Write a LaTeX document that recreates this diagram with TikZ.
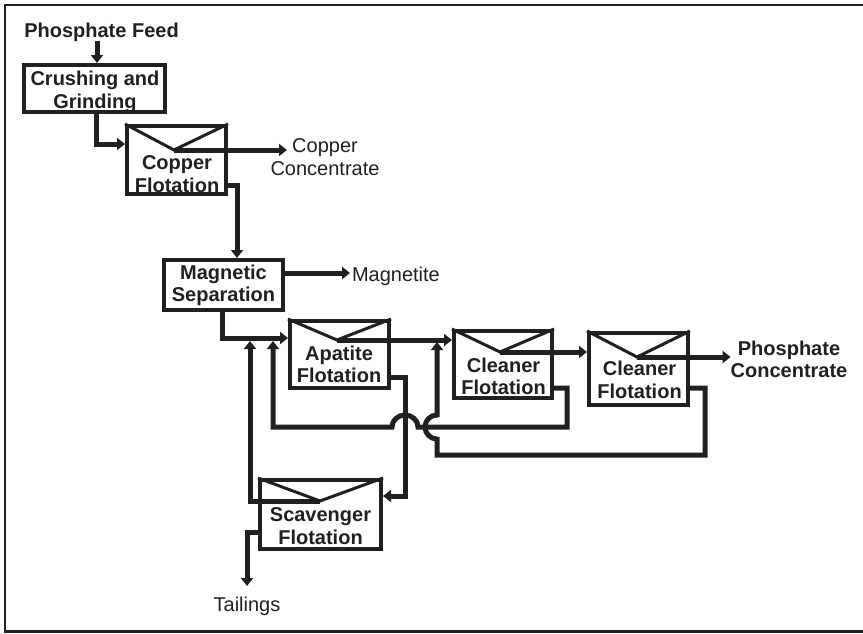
\documentclass[tikz,border=0pt]{standalone}
\usepackage{fontspec}
\setmainfont{Liberation Sans}
\usetikzlibrary{arrows.meta,calc}
\definecolor{ink}{RGB}{35,31,32}
\begin{document}
\begin{tikzpicture}[x=1pt,y=-1pt,
  every node/.style={inner sep=0pt,outer sep=0pt,text=ink},
  txt/.style={font=\fontsize{20}{22.5}\selectfont},
  btxt/.style={font=\fontsize{20}{22.5}\selectfont\bfseries},
  unit/.style 2 args={draw=ink,line width=4pt,outer sep=2pt,
    minimum width=#1pt,minimum height=#2pt},
  flow/.style={draw=ink,line width=5pt,-{Triangle[length=8pt,width=12pt]}},
  froth/.style={draw=ink,line width=3pt},
  frame/.style={draw=ink,line width=2.5pt}]
\useasboundingbox (0,0) rectangle (863,633);
\draw[frame] (863,5) -- (5,5) -- (5,631.5) -- (863,631.5);

% process units
\node[unit={141}{47}] (crush) at (94.5,88.5) {};
\node[unit={99}{68}]  (cu)    at (176.5,160) {};
\node[unit={119}{50}] (mag)   at (223.5,285) {};
\node[unit={99}{67}]  (ap)    at (339.5,354.5) {};
\node[unit={98}{67}]  (c1)    at (503,364.5) {};
\node[unit={99}{72}]  (c2)    at (638.5,369) {};
\node[unit={121}{69}] (sc)    at (320.5,514.5) {};

% froth launders (apex of each cell)
\coordinate (cu-v) at (174,150);
\coordinate (ap-v) at (337,340);
\coordinate (c1-v) at (500,352);
\coordinate (c2-v) at (637,357);
\coordinate (sc-v) at (320,501);
\foreach \u in {cu,ap,c1,c2,sc}
  \draw[froth,line join=miter] (\u.north west) -- (\u-v) -- (\u.north east);

% unit labels
\node[btxt,align=center] (crush-t) at (95,92)    {Crushing and\\Grinding};
\node[btxt,align=center] (cu-t)    at (177,174)  {Copper\\Flotation};
\node[btxt,align=center] (mag-t)   at (223.5,285.5) {Magnetic\\Separation};
\node[btxt,align=center] (ap-t)    at (339,364.5) {Apatite\\Flotation};
\node[btxt,align=center] (c1-t)    at (503.5,376.5) {Cleaner\\Flotation};
\node[btxt,align=center] (c2-t)    at (639.5,380) {Cleaner\\Flotation};
\node[btxt,align=center] (sc-t)    at (320.5,526) {Scavenger\\Flotation};

% stream labels
\node[btxt,anchor=base] (feed) at (101.5,37) {Phosphate Feed};
\node[txt,align=center] (cucon) at (325,157) {Copper\\Concentrate};
\node[txt,anchor=base west] (magn) at (352,281) {Magnetite};
\node[btxt,align=center] (pc) at (789,359.5) {Phosphate\\Concentrate};
\node[txt,anchor=base] (tail) at (247,611) {Tailings};

% free ends and bends
\coordinate (cu-out) at (287,150);
\coordinate (mag-out) at (350,273);
\coordinate (aptail) at (405,496);
\coordinate (r1) at (567,427);
\coordinate (hop1) at (418,427);
\coordinate (r2) at (705,455);
\coordinate (hop2) at (437,439);
\coordinate (s1) at (250,341);
\coordinate (s2) at (273,341);
\coordinate (s3) at (437,342);
\coordinate (tail-end) at (247,586);

% main line
\draw[flow] ($(feed.south)+(-4.5,0)$) -- ($(crush.north)+(2.5,0)$);
\draw[flow] ($(crush.south)+(1.5,0)$) |- ($(cu.west)+(0,-16)$);
\draw[flow] (cu-v) -- (cu-out);
\draw[flow] ($(cu.east)+(0,25)$) -| ($(mag.north)+(13.5,0)$);
\draw[flow] ($(mag.east)+(0,-12)$) -- (mag-out);
\draw[flow] ($(mag.south)+(-1.5,0)$) |- ($(ap.west)+(0,-16.5)$);
\draw[flow] (ap-v) -- (ap-v -| c1.west);
\draw[flow] (c1-v) -- (c1-v -| c2.west);
\draw[flow] (c2-v) -- (c2-v -| pc.west);

% apatite tails to scavenger
\draw[flow] ($(ap.east)+(0,22.5)$) -| (aptail) -- (aptail -| sc.east);

% cleaner tails recycled
\draw[flow] ($(c1.east)+(0,23.5)$) -| (r1) -- (hop1)
  arc[start angle=0,end angle=180,x radius=13pt,y radius=12pt]
  -- (r1 -| s2) -- (s2);
\draw[flow] ($(c2.east)+(0,19)$) -| (r2) -- (r2 -| s3) -- (hop2)
  arc[start angle=270,end angle=90,radius=12pt] -- (s3);

% scavenger products
\draw[flow] (sc-v) -| (s1);
\draw[flow] ($(sc.west)+(0,17.5)$) -| (tail-end);
\end{tikzpicture}
\end{document}
